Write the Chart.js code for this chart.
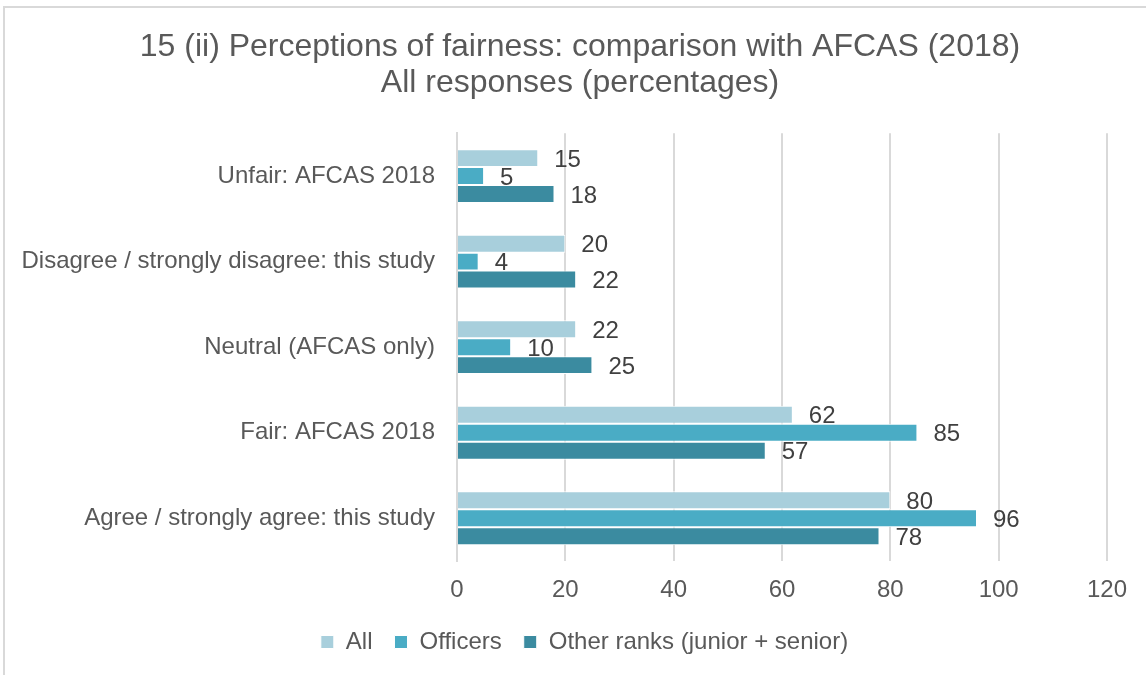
<!DOCTYPE html>
<html>
<head>
<meta charset="utf-8">
<script src="https://cdn.jsdelivr.net/npm/chart.js@4.4.0/dist/chart.umd.min.js"></script>
<style>
  html, body { margin: 0; padding: 0; background: #fff; }
  #frame {
    position: absolute; left: 3px; top: 6px; width: 1200px; height: 700px;
    border-left: 2px solid #d9d9d9; border-top: 2px solid #d9d9d9;
  }
  #wrap { position: absolute; left: 0; top: 0; width: 1146px; height: 675px; }
</style>
</head>
<body>
<div id="frame"></div>
<div id="wrap"><canvas id="grafico"></canvas></div>
<script>
// categorias e valores
const categorias = [
  "Unfair: AFCAS 2018",
  "Disagree / strongly disagree: this study",
  "Neutral (AFCAS only)",
  "Fair: AFCAS 2018",
  "Agree / strongly agree: this study",
];
const valoresTodos = [15, 20, 22, 62, 80];
const valoresOficiais = [5, 4, 10, 85, 96];
const valoresOutros = [18, 22, 25, 57, 78];

const fonte = "'Liberation Sans', Arial, sans-serif";

// rotulos no fim das barras
const rotulosBarras = {
  id: "rotulosBarras",
  afterDatasetsDraw(chart) {
    const ctx = chart.ctx;
    ctx.save();
    ctx.font = "24px " + fonte;
    ctx.fillStyle = "#404040";
    ctx.textAlign = "left";
    ctx.textBaseline = "middle";
    chart.data.datasets.forEach((ds, i) => {
      const meta = chart.getDatasetMeta(i);
      meta.data.forEach((bar, j) => {
        ctx.fillText(ds.data[j], bar.x + 16, bar.y + 2);
      });
    });
    ctx.restore();
  },
};

// centraliza titulo e legenda como no original
const centraTitulo = {
  id: "centraTitulo",
  afterLayout(chart) {
    if (chart.titleBlock) {
      chart.titleBlock.left = 14;
      chart.titleBlock.right = 1146;
    }
    if (chart.legend) {
      chart.legend.left = 31;
      chart.legend.right = 1138;
    }
  },
};

const ctx = document.querySelector("#grafico");

new Chart(ctx, {
  type: "bar",
  data: {
    labels: categorias,
    datasets: [
      { label: "All", data: valoresTodos, backgroundColor: "#a8cfdc" },
      { label: "Officers", data: valoresOficiais, backgroundColor: "#4aacc5" },
      { label: "Other ranks (junior + senior)", data: valoresOutros, backgroundColor: "#3b8ba0" },
    ].map((d) => ({
      ...d,
      borderColor: "#ffffff",
      borderWidth: 1,
      categoryPercentage: 0.63,
      barPercentage: 1,
    })),
  },
  options: {
    indexAxis: "y",
    responsive: true,
    maintainAspectRatio: false,
    animation: false,
    layout: { padding: { left: 0, right: 39, top: 29, bottom: 11 } },
    plugins: {
      title: {
        display: true,
        text: ["15 (ii) Perceptions of fairness: comparison with AFCAS (2018)", "All responses (percentages)"],
        color: "#595959",
        font: { family: fonte, size: 32, weight: "normal", lineHeight: 1.13 },
        padding: { top: 0, bottom: 32 },
      },
      legend: {
        position: "bottom",
        labels: {
          color: "#595959",
          font: { family: fonte, size: 24 },
          boxWidth: 13,
          boxHeight: 13,
          padding: 22,
        },
      },
      tooltip: { enabled: false },
    },
    scales: {
      x: {
        min: 0,
        max: 120,
        ticks: { stepSize: 20, color: "#595959", font: { family: fonte, size: 24 }, padding: 15 },
        grid: { color: "#d9d9d9", lineWidth: 2, drawTicks: false },
        border: { display: false },
        afterFit(scale) { scale.height = 47; },
      },
      y: {
        ticks: { color: "#595959", font: { family: fonte, size: 24 }, padding: 22 },
        grid: { display: false, drawTicks: false },
        border: { color: "#d9d9d9", width: 2 },
        afterFit(scale) { scale.width = 457; },
      },
    },
  },
  plugins: [rotulosBarras, centraTitulo],
});
</script>
</body>
</html>
